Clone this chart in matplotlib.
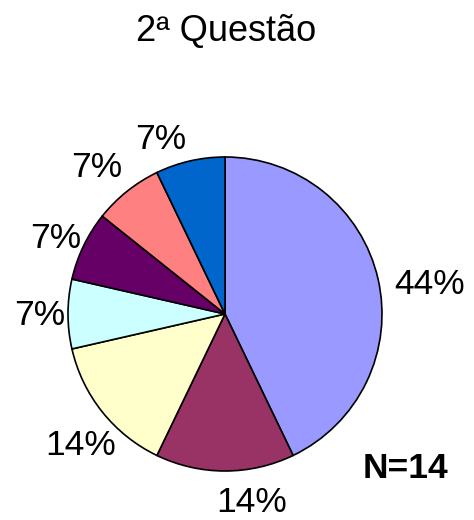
import matplotlib
matplotlib.use("Agg")
import matplotlib.pyplot as plt

title = "2ª Questão"
counts = [6, 2, 2, 1, 1, 1, 1]
labels = ["44%", "14%", "14%", "7%", "7%", "7%", "7%"]
colors = ["#9999FF", "#993366", "#FFFFCC", "#CCFFFF", "#660066", "#FF8080", "#0066CC"]
note = "N=14"

# label offsets relative to pie centre, in units of radius
label_pos = [(1.30, 0.19), (0.17, -1.20), (-0.92, -0.84), (-1.18, -0.01),
             (-1.08, 0.48), (-0.82, 0.93), (-0.41, 1.11)]

plt.rcParams['font.family'] = ['Liberation Sans', 'DejaVu Sans']

W, H = 474, 520
fig = plt.figure(figsize=(W / 100, H / 100), dpi=100)
ax = fig.add_axes([0, 0, 1, 1])
ax.set_xlim(0, W)
ax.set_ylim(0, H)
ax.axis('off')

cx, cy, r = 225, H - 314, 157
ax.pie(counts, colors=colors, startangle=90, counterclock=False,
       center=(cx, cy), radius=r,
       wedgeprops=dict(edgecolor='black', linewidth=1.2))
ax.set_xlim(0, W)
ax.set_ylim(0, H)
ax.set_aspect('equal')

for lab, (dx, dy) in zip(labels, label_pos):
    ax.text(cx + dx * r, cy + dy * r, lab, fontsize=25.5, ha='center', va='center')

ax.text(226, H - 31, title, fontsize=26, ha='center', va='center')
ax.text(406, H - 469, note, fontsize=25.5, fontweight='bold', ha='center', va='center')

fig.savefig("out.png", dpi=100)
